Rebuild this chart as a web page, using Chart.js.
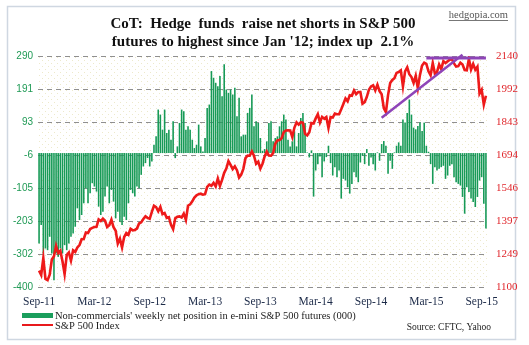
<!DOCTYPE html>
<html>
<head>
<meta charset="utf-8">
<script src="https://cdn.jsdelivr.net/npm/chart.js@4.4.1/dist/chart.umd.min.js"></script>
<style>
  html, body { margin: 0; padding: 0; background: #fff; }
  #wrap { width: 529px; height: 345px; position: relative; }
</style>
</head>
<body>
<div id="wrap"><canvas id="canvasid"></canvas></div>
<script>
// weekly observations, first week ending Fri 2 Sep 2011
const firstWeek = [2011, 8, 2];

// non-commercials' net position in e-mini S&P 500 futures (000)
const netPosition = [
  -270, -215, -300, -285, -290, -250, -300, -380, -300, -310,
  -285, -300, -275, -290, -270, -250, -240, -220, -165, -200,
  -185, -150, -105, -150, -120, -90, -100, -115, -160, -185,
  -175, -130, -100, -150, -110, -145, -195, -175, -205, -215,
  -190, -200, -150, -110, -120, -130, -100, -105, -65, -40,
  -30, -15, -40, -25, 25, 50, 130, 115, 70, 130,
  60, 70, 40, 95, -15, 20, 90, 130, 125, 70,
  80, 70, 40, 15, 25, 85, 20, 5, 45, 135,
  145, 245, 225, 210, 200, 230, 170, 265, 190, 180,
  190, 175, 195, 110, 165, 50, 55, 55, 120, 135,
  175, 80, 95, 90, 45, 7, 12, 35, 90, 95,
  35, 45, 50, 80, 95, 115, 100, 40, 20, 35,
  65, 20, 60, 105, 120, 90, 2, -13, 8, -130,
  -52, -33, -10, -72, -25, -12, 22, -30, -67, -42,
  -72, -52, -136, -77, -82, -102, -121, -92, -57, -72,
  -87, -28, -8, -33, 12, -38, -13, -33, -52, 2,
  -23, 27, 36, 22, -62, -23, -47, 2, 22, 32,
  22, 100, 91, 120, 160, 115, 76, 71, 81, 91,
  66, 91, 22, 4, -33, -92, -42, -52, -47, -42,
  -38, -77, -67, -38, -33, -72, -87, -92, -97, -131,
  -181, -102, -116, -136, -146, -161, -131, -82, -72, -151,
  -225
];

// S&P 500 weekly close
const spxIndex = [
  1174, 1154, 1230, 1136, 1131, 1155, 1224, 1238, 1285, 1253,
  1263, 1216, 1158, 1244, 1255, 1219, 1265, 1258,
  1278, 1289, 1315, 1316, 1345, 1343, 1361, 1366, 1370, 1371,
  1404, 1397, 1408, 1398, 1370, 1378, 1403, 1369, 1353, 1295,
  1318, 1278, 1325, 1343, 1335, 1362, 1355, 1357, 1363, 1386,
  1391, 1406, 1418, 1411, 1407, 1438, 1466, 1460, 1441, 1461,
  1428, 1433, 1411, 1414, 1380, 1360, 1409, 1416, 1418, 1413,
  1430, 1402,
  1466, 1472, 1486, 1503, 1513, 1518, 1520, 1516, 1518, 1551,
  1561, 1556, 1569, 1553, 1588, 1555, 1582, 1614, 1633, 1667,
  1650, 1631, 1643, 1626, 1593, 1606, 1632, 1680, 1692, 1691,
  1710, 1691, 1655, 1664, 1633, 1655, 1688, 1710, 1692, 1691,
  1703, 1745, 1760, 1762, 1770, 1798, 1805, 1806, 1805, 1775,
  1818, 1841,
  1831, 1842, 1839, 1790, 1783, 1797, 1838, 1836, 1859, 1878,
  1841, 1866, 1858, 1865, 1816, 1865, 1863, 1881, 1878, 1878,
  1900, 1924, 1949, 1936, 1963, 1961, 1985, 1968, 1978, 1978,
  1925, 1932, 1955, 1988, 2003, 2008, 1985, 2011, 1982, 1968,
  1906, 1887, 1964, 2018, 2032, 2040, 2064, 2068, 2075, 2003,
  2071, 2089,
  2058, 2045, 2019, 2051, 1995, 2055, 2097, 2110, 2105, 2071,
  2053, 2108, 2061, 2067, 2102, 2081, 2117, 2108, 2116, 2123,
  2126, 2107, 2092, 2094, 2110, 2102, 2077, 2076, 2127, 2079,
  2104, 2078, 2092, 1971, 1988, 1921, 1961
];

// hand-drawn trend lines on the index: [week, level]
const risingSupport = [[161, 1862], [199, 2146]];
const topResistance = [[182, 2131], [210, 2131]];

const leftTicks = [-400, -302, -203, -105, -6, 93, 191, 290];
const rightTicks = [1100, 1249, 1397, 1546, 1694, 1843, 1992, 2140];
const xTickWeeks = [0, 26, 52, 78, 104, 130, 156, 182, 208];
const xTickLabels = ["Sep-11", "Mar-12", "Sep-12", "Mar-13", "Sep-13", "Mar-14", "Sep-14", "Mar-15", "Sep-15"];

const weeks = spxIndex.map((_, i) => {
  const d = new Date(Date.UTC(firstWeek[0], firstWeek[1], firstWeek[2] + 7 * i));
  return d.toISOString().slice(0, 10);
});

const toPoints = pts => pts.map(p => ({ x: weeks[p[0]], y: p[1] }));

const SERIF = "'Liberation Serif', 'Times New Roman', serif";

// faint dotted fill used behind the plot
function dotPattern(ctx) {
  const c = document.createElement("canvas");
  c.width = 6; c.height = 6;
  const g = c.getContext("2d");
  g.fillStyle = "rgba(214, 206, 140, 0.45)";
  g.fillRect(0, 0, 1, 1);
  g.fillRect(3, 3, 1, 1);
  return ctx.createPattern(c, "repeat");
}

const decorations = {
  id: "decorations",
  beforeDraw(chart) {
    const { ctx, chartArea: a } = chart;
    ctx.save();
    ctx.fillStyle = "#fff";
    ctx.fillRect(0, 0, chart.width, chart.height);
    ctx.strokeStyle = "#cfd7e1";
    ctx.lineWidth = 1.5;
    ctx.strokeRect(7.5, 6.5, 508, 333);
    ctx.fillStyle = dotPattern(ctx);
    ctx.fillRect(a.left, a.top, a.right - a.left, a.bottom - a.top);
    ctx.restore();
  },
  // dashed horizontal gridlines at the left-axis ticks
  beforeDatasetsDraw(chart) {
    const { ctx, chartArea: a, scales } = chart;
    ctx.save();
    ctx.strokeStyle = "#8f8f8f";
    ctx.lineWidth = 1;
    ctx.setLineDash([5, 4]);
    leftTicks.forEach(v => {
      const y = Math.round(scales.y.getPixelForValue(v)) + 0.5;
      ctx.beginPath();
      ctx.moveTo(a.left, y);
      ctx.lineTo(a.right, y);
      ctx.stroke();
    });
    ctx.restore();
  },
  afterDraw(chart) {
    const ctx = chart.ctx;
    ctx.save();
    ctx.fillStyle = "#111";
    ctx.textAlign = "center";
    ctx.textBaseline = "middle";
    ctx.font = "bold 15px " + SERIF;
    ctx.fillText("CoT:  Hedge  funds  raise net shorts in S&P 500", 263, 24);
    ctx.fillText("futures to highest since Jan '12; index up  2.1%", 263, 42);

    ctx.fillStyle = "#555";
    ctx.textAlign = "right";
    ctx.font = "10.5px " + SERIF;
    ctx.fillText("hedgopia.com", 508, 15);
    const w = ctx.measureText("hedgopia.com").width;
    ctx.fillRect(508 - w, 20, w, 0.8);

    // legend
    ctx.fillStyle = "#1a9e5c";
    ctx.fillRect(22, 313, 31, 5);
    ctx.strokeStyle = "#e8191c";
    ctx.lineWidth = 2;
    ctx.beginPath();
    ctx.moveTo(22, 325);
    ctx.lineTo(53, 325);
    ctx.stroke();
    ctx.fillStyle = "#222";
    ctx.textAlign = "left";
    ctx.font = "10.5px " + SERIF;
    ctx.fillText("Non-commercials' weekly net position in e-mini S&P 500 futures (000)", 55, 316);
    ctx.fillText("S&P 500 Index", 55, 326);
    ctx.textAlign = "right";
    ctx.font = "9.5px " + SERIF;
    ctx.fillText("Source: CFTC, Yahoo", 491, 327);
    ctx.restore();
  }
};

new Chart(document.getElementById("canvasid"), {
  data: {
    labels: weeks,
    datasets: [
      {
        type: "line",
        label: "Rising support",
        data: toPoints(risingSupport),
        yAxisID: "y1",
        borderColor: "#8e44b8",
        borderWidth: 2.5,
        pointRadius: 0,
        clip: false,
        order: 1
      },
      {
        type: "line",
        label: "Resistance",
        data: toPoints(topResistance),
        yAxisID: "y1",
        borderColor: "#8e44b8",
        borderWidth: 3,
        pointRadius: 0,
        clip: false,
        order: 1
      },
      {
        type: "line",
        label: "S&P 500 Index",
        data: spxIndex,
        yAxisID: "y1",
        borderColor: "#ee1a1a",
        borderWidth: 2.6,
        pointRadius: 0,
        tension: 0,
        order: 2
      },
      {
        type: "bar",
        label: "Non-commercials' weekly net position in e-mini S&P 500 futures (000)",
        data: netPosition,
        yAxisID: "y",
        backgroundColor: "#179a57",
        barPercentage: 0.75,
        categoryPercentage: 1,
        order: 3
      }
    ]
  },
  options: {
    responsive: true,
    maintainAspectRatio: false,
    animation: false,
    layout: { padding: { top: 56, left: 0, right: 0, bottom: 0 } },
    plugins: {
      legend: { display: false },
      tooltip: { enabled: false }
    },
    scales: {
      x: {
        offset: true,
        grid: { display: false, drawTicks: false },
        border: { display: false },
        afterFit: s => { s.height = 58; },
        afterBuildTicks: s => { s.ticks = xTickWeeks.map(v => ({ value: v })); },
        ticks: {
          autoSkip: false,
          maxRotation: 0,
          padding: 8,
          color: "#1c2a48",
          font: { family: SERIF, size: 11.5 },
          callback: (v) => xTickLabels[xTickWeeks.indexOf(v)]
        }
      },
      y: {
        position: "left",
        min: -400,
        max: 290,
        afterFit: s => { s.width = 38; },
        afterBuildTicks: s => { s.ticks = leftTicks.map(v => ({ value: v })); },
        grid: { display: false, drawTicks: false },
        border: { display: false },
        ticks: {
          padding: 5,
          color: "#1f9a55",
          font: { family: "'Liberation Sans', Arial, sans-serif", size: 10 },
          callback: v => String(v)
        }
      },
      y1: {
        position: "right",
        min: 1100,
        max: 2140,
        afterFit: s => { s.width = 42; },
        afterBuildTicks: s => { s.ticks = rightTicks.map(v => ({ value: v })); },
        grid: { display: false, drawTicks: false },
        border: { display: false },
        ticks: {
          padding: 9,
          color: "#e0262b",
          font: { family: SERIF, size: 11 },
          callback: v => String(v)
        }
      }
    }
  },
  plugins: [decorations]
});
</script>
</body>
</html>
